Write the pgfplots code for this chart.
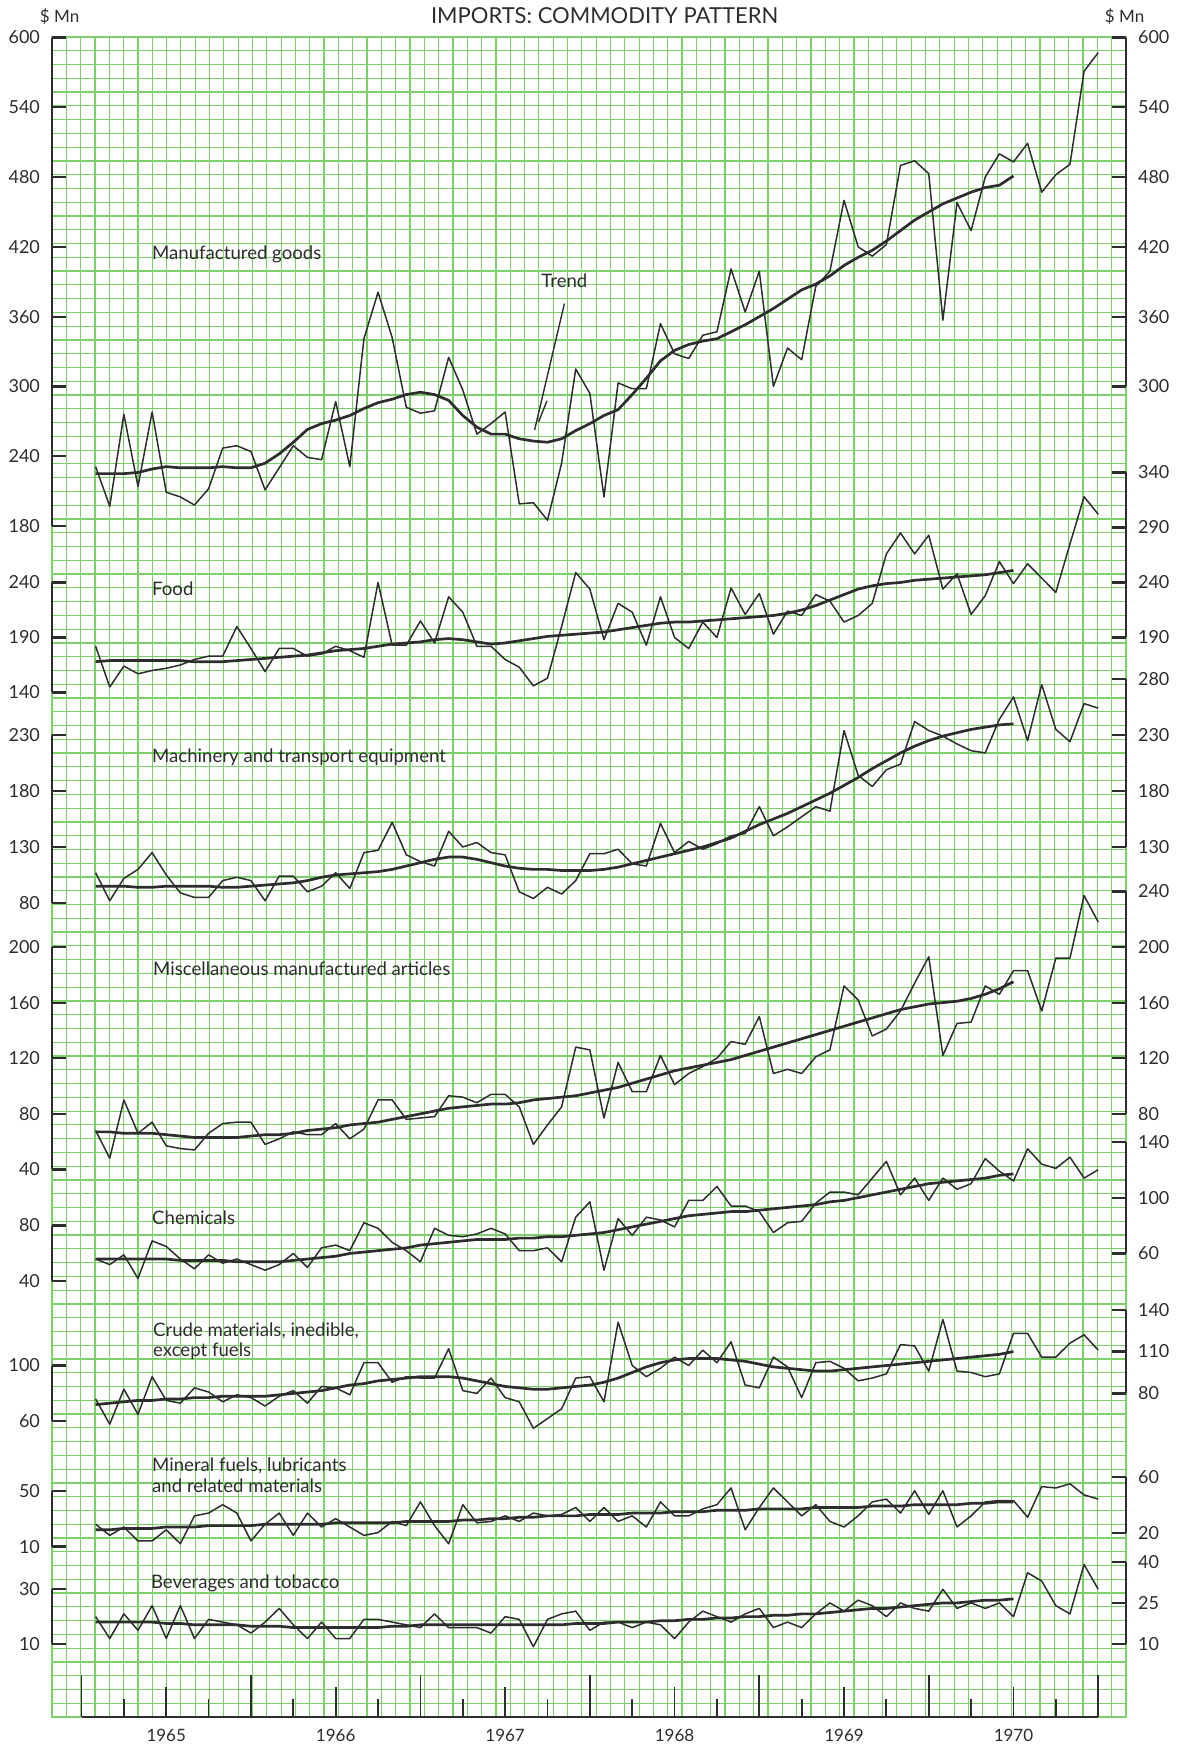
\documentclass[border=0pt]{standalone}
\usepackage{pgfplots}
\pgfplotsset{compat=1.18}
\usepackage{pgfplotstable}
\usepackage{fontspec}
\setmainfont{Lato}
\definecolor{gridgreen}{RGB}{125,207,108}
\definecolor{ink}{RGB}{45,45,45}

\tikzset{brk/.style={ink, line width=1.1pt}}
\pgfplotsset{
 ov/.style={scale only axis, width=537pt, height=840pt, at={(26pt,-858.5pt)}, anchor=south west,
   xmin=-2.09, xmax=73.97, axis line style={draw=none}, xtick=\empty, tick align=inside,
   major tick length=7pt, ytick style={ink, line width=1.1pt}, scaled y ticks=false,
   /pgf/number format/assume math mode=true,
   yticklabel style={font=\fontsize{9}{9}\selectfont, text=ink}, clip=false},
 ovL/.style={ov, ytick pos=left, yticklabel style={xshift=-2.5pt}},
 ovR/.style={ov, ytick pos=right, yticklabel style={xshift=2.5pt}},
 dl/.style={ink, line width=0.75pt, line join=round, mark=none},
 tl/.style={ink, line width=1.35pt, line join=round, mark=none},
}

\pgfplotstableread[row sep=\\]{m v\\ 1 231\\ 2 197\\ 3 276\\ 4 214\\ 5 278\\ 6 209\\ 7 205\\ 8 198\\ 9 212\\ 10 247\\ 11 249\\ 12 244\\ 13 211\\ 14 230\\ 15 249\\ 16 239\\ 17 237\\ 18 287\\ 19 231\\ 20 341\\ 21 381\\ 22 342\\ 23 282\\ 24 277\\ 25 279\\ 26 325\\ 27 297\\ 28 259\\ 29 268\\ 30 278\\ 31 199\\ 32 200\\ 33 185\\ 34 234\\ 35 315\\ 36 294\\ 37 205\\ 38 303\\ 39 298\\ 40 298\\ 41 354\\ 42 328\\ 43 324\\ 44 344\\ 45 347\\ 46 401\\ 47 364\\ 48 399\\ 49 300\\ 50 333\\ 51 323\\ 52 386\\ 53 399\\ 54 460\\ 55 420\\ 56 412\\ 57 422\\ 58 490\\ 59 494\\ 60 483\\ 61 357\\ 62 458\\ 63 434\\ 64 480\\ 65 500\\ 66 493\\ 67 509\\ 68 467\\ 69 482\\ 70 491\\ 71 571\\ 72 587\\}\manuf
\pgfplotstableread[row sep=\\]{m t\\ 1 225\\ 2 225\\ 3 225\\ 4 226\\ 5 229\\ 6 231\\ 7 230\\ 8 230\\ 9 230\\ 10 231\\ 11 230\\ 12 230\\ 13 234\\ 14 242\\ 15 252\\ 16 263\\ 17 268\\ 18 271\\ 19 275\\ 20 281\\ 21 286\\ 22 289\\ 23 293\\ 24 295\\ 25 293\\ 26 288\\ 27 275\\ 28 265\\ 29 259\\ 30 259\\ 31 255\\ 32 253\\ 33 252\\ 34 255\\ 35 262\\ 36 268\\ 37 275\\ 38 280\\ 39 293\\ 40 307\\ 41 322\\ 42 331\\ 43 336\\ 44 339\\ 45 341\\ 46 347\\ 47 353\\ 48 360\\ 49 367\\ 50 375\\ 51 383\\ 52 388\\ 53 395\\ 54 404\\ 55 411\\ 56 417\\ 57 425\\ 58 434\\ 59 443\\ 60 450\\ 61 457\\ 62 462\\ 63 467\\ 64 471\\ 65 473\\ 66 481\\}\manuft

\pgfplotstableread[row sep=\\]{m v\\ 1 182\\ 2 145\\ 3 164\\ 4 157\\ 5 160\\ 6 162\\ 7 165\\ 8 170\\ 9 173\\ 10 173\\ 11 200\\ 12 180\\ 13 159\\ 14 180\\ 15 180\\ 16 173\\ 17 175\\ 18 182\\ 19 178\\ 20 172\\ 21 240\\ 22 183\\ 23 183\\ 24 205\\ 25 185\\ 26 227\\ 27 213\\ 28 182\\ 29 182\\ 30 170\\ 31 163\\ 32 146\\ 33 153\\ 34 200\\ 35 249\\ 36 234\\ 37 188\\ 38 221\\ 39 213\\ 40 183\\ 41 227\\ 42 190\\ 43 180\\ 44 204\\ 45 190\\ 46 235\\ 47 211\\ 48 230\\ 49 193\\ 50 214\\ 51 210\\ 52 229\\ 53 223\\ 54 204\\ 55 210\\ 56 221\\ 57 266\\ 58 285\\ 59 266\\ 60 283\\ 61 234\\ 62 248\\ 63 211\\ 64 228\\ 65 259\\ 66 239\\ 67 257\\ 68 244\\ 69 231\\ 70 275\\ 71 318\\ 72 302\\}\food
\pgfplotstableread[row sep=\\]{m t\\ 1 168\\ 2 169\\ 3 169\\ 4 169\\ 5 169\\ 6 169\\ 7 169\\ 8 168\\ 9 168\\ 10 168\\ 11 169\\ 12 170\\ 13 171\\ 14 172\\ 15 173\\ 16 174\\ 17 176\\ 18 178\\ 19 179\\ 20 180\\ 21 182\\ 22 184\\ 23 185\\ 24 186\\ 25 188\\ 26 189\\ 27 188\\ 28 186\\ 29 184\\ 30 185\\ 31 187\\ 32 189\\ 33 191\\ 34 192\\ 35 193\\ 36 194\\ 37 195\\ 38 197\\ 39 199\\ 40 201\\ 41 203\\ 42 204\\ 43 204\\ 44 205\\ 45 206\\ 46 207\\ 47 208\\ 48 209\\ 49 210\\ 50 212\\ 51 215\\ 52 219\\ 53 224\\ 54 229\\ 55 234\\ 56 237\\ 57 239\\ 58 240\\ 59 242\\ 60 243\\ 61 244\\ 62 245\\ 63 246\\ 64 247\\ 65 249\\ 66 251\\}\foodt

\pgfplotstableread[row sep=\\]{m v\\ 1 107\\ 2 82\\ 3 102\\ 4 110\\ 5 125\\ 6 105\\ 7 89\\ 8 85\\ 9 85\\ 10 100\\ 11 103\\ 12 100\\ 13 82\\ 14 104\\ 15 104\\ 16 90\\ 17 95\\ 18 107\\ 19 93\\ 20 125\\ 21 127\\ 22 152\\ 23 123\\ 24 117\\ 25 113\\ 26 144\\ 27 130\\ 28 134\\ 29 125\\ 30 123\\ 31 90\\ 32 84\\ 33 94\\ 34 88\\ 35 100\\ 36 124\\ 37 124\\ 38 128\\ 39 115\\ 40 113\\ 41 151\\ 42 125\\ 43 135\\ 44 128\\ 45 133\\ 46 140\\ 47 142\\ 48 166\\ 49 140\\ 50 148\\ 51 157\\ 52 166\\ 53 162\\ 54 234\\ 55 194\\ 56 184\\ 57 199\\ 58 204\\ 59 242\\ 60 234\\ 61 229\\ 62 222\\ 63 216\\ 64 214\\ 65 244\\ 66 264\\ 67 225\\ 68 275\\ 69 235\\ 70 224\\ 71 258\\ 72 254\\}\mach
\pgfplotstableread[row sep=\\]{m t\\ 1 95\\ 2 95\\ 3 95\\ 4 94\\ 5 94\\ 6 95\\ 7 95\\ 8 95\\ 9 95\\ 10 94\\ 11 94\\ 12 95\\ 13 96\\ 14 97\\ 15 98\\ 16 100\\ 17 103\\ 18 105\\ 19 106\\ 20 107\\ 21 108\\ 22 110\\ 23 113\\ 24 116\\ 25 119\\ 26 121\\ 27 121\\ 28 119\\ 29 116\\ 30 113\\ 31 111\\ 32 110\\ 33 110\\ 34 109\\ 35 109\\ 36 109\\ 37 110\\ 38 112\\ 39 115\\ 40 118\\ 41 121\\ 42 124\\ 43 127\\ 44 130\\ 45 134\\ 46 138\\ 47 144\\ 48 150\\ 49 155\\ 50 160\\ 51 166\\ 52 172\\ 53 178\\ 54 185\\ 55 192\\ 56 200\\ 57 207\\ 58 214\\ 59 220\\ 60 225\\ 61 229\\ 62 232\\ 63 235\\ 64 237\\ 65 239\\ 66 240\\}\macht

\pgfplotstableread[row sep=\\]{m v\\ 1 68\\ 2 48\\ 3 90\\ 4 66\\ 5 74\\ 6 57\\ 7 55\\ 8 54\\ 9 66\\ 10 73\\ 11 74\\ 12 74\\ 13 58\\ 14 62\\ 15 67\\ 16 65\\ 17 65\\ 18 73\\ 19 62\\ 20 69\\ 21 90\\ 22 90\\ 23 76\\ 24 77\\ 25 78\\ 26 93\\ 27 92\\ 28 88\\ 29 94\\ 30 94\\ 31 85\\ 32 58\\ 33 72\\ 34 85\\ 35 128\\ 36 126\\ 37 77\\ 38 117\\ 39 96\\ 40 96\\ 41 122\\ 42 101\\ 43 109\\ 44 114\\ 45 120\\ 46 132\\ 47 130\\ 48 150\\ 49 109\\ 50 112\\ 51 109\\ 52 121\\ 53 126\\ 54 172\\ 55 162\\ 56 136\\ 57 141\\ 58 154\\ 59 174\\ 60 193\\ 61 122\\ 62 145\\ 63 146\\ 64 172\\ 65 166\\ 66 183\\ 67 183\\ 68 154\\ 69 192\\ 70 192\\ 71 237\\ 72 218\\}\misc
\pgfplotstableread[row sep=\\]{m t\\ 1 67\\ 2 67\\ 3 66\\ 4 66\\ 5 66\\ 6 65\\ 7 64\\ 8 63\\ 9 63\\ 10 63\\ 11 63\\ 12 64\\ 13 65\\ 14 65\\ 15 66\\ 16 68\\ 17 69\\ 18 70\\ 19 72\\ 20 73\\ 21 74\\ 22 76\\ 23 78\\ 24 80\\ 25 82\\ 26 84\\ 27 85\\ 28 86\\ 29 87\\ 30 87\\ 31 88\\ 32 90\\ 33 91\\ 34 92\\ 35 93\\ 36 95\\ 37 97\\ 38 99\\ 39 102\\ 40 105\\ 41 108\\ 42 111\\ 43 113\\ 44 115\\ 45 117\\ 46 119\\ 47 122\\ 48 125\\ 49 128\\ 50 131\\ 51 134\\ 52 137\\ 53 140\\ 54 143\\ 55 146\\ 56 149\\ 57 152\\ 58 155\\ 59 157\\ 60 159\\ 61 160\\ 62 161\\ 63 163\\ 64 166\\ 65 170\\ 66 175\\}\misct

\pgfplotstableread[row sep=\\]{m v\\ 1 56\\ 2 52\\ 3 59\\ 4 42\\ 5 69\\ 6 65\\ 7 56\\ 8 49\\ 9 59\\ 10 53\\ 11 56\\ 12 52\\ 13 48\\ 14 52\\ 15 60\\ 16 50\\ 17 64\\ 18 66\\ 19 62\\ 20 82\\ 21 78\\ 22 68\\ 23 62\\ 24 54\\ 25 78\\ 26 73\\ 27 72\\ 28 74\\ 29 78\\ 30 74\\ 31 62\\ 32 62\\ 33 64\\ 34 54\\ 35 86\\ 36 97\\ 37 48\\ 38 85\\ 39 73\\ 40 86\\ 41 84\\ 42 79\\ 43 98\\ 44 98\\ 45 108\\ 46 94\\ 47 94\\ 48 90\\ 49 75\\ 50 82\\ 51 83\\ 52 96\\ 53 104\\ 54 104\\ 55 102\\ 56 114\\ 57 126\\ 58 102\\ 59 114\\ 60 98\\ 61 114\\ 62 106\\ 63 110\\ 64 128\\ 65 119\\ 66 112\\ 67 135\\ 68 124\\ 69 121\\ 70 129\\ 71 114\\ 72 120\\}\chem
\pgfplotstableread[row sep=\\]{m t\\ 1 56\\ 2 56\\ 3 56\\ 4 56\\ 5 56\\ 6 56\\ 7 55\\ 8 55\\ 9 55\\ 10 55\\ 11 54\\ 12 54\\ 13 54\\ 14 54\\ 15 55\\ 16 56\\ 17 57\\ 18 58\\ 19 60\\ 20 61\\ 21 62\\ 22 63\\ 23 64\\ 24 66\\ 25 67\\ 26 68\\ 27 69\\ 28 70\\ 29 70\\ 30 70\\ 31 71\\ 32 71\\ 33 72\\ 34 72\\ 35 73\\ 36 74\\ 37 75\\ 38 77\\ 39 79\\ 40 81\\ 41 83\\ 42 85\\ 43 87\\ 44 88\\ 45 89\\ 46 90\\ 47 90\\ 48 91\\ 49 92\\ 50 93\\ 51 94\\ 52 95\\ 53 97\\ 54 98\\ 55 100\\ 56 102\\ 57 104\\ 58 106\\ 59 108\\ 60 110\\ 61 111\\ 62 112\\ 63 113\\ 64 114\\ 65 116\\ 66 117\\}\chemt

\pgfplotstableread[row sep=\\]{m v\\ 1 76\\ 2 58\\ 3 83\\ 4 65\\ 5 92\\ 6 75\\ 7 73\\ 8 84\\ 9 81\\ 10 74\\ 11 79\\ 12 77\\ 13 71\\ 14 78\\ 15 82\\ 16 73\\ 17 85\\ 18 84\\ 19 79\\ 20 102\\ 21 102\\ 22 88\\ 23 92\\ 24 91\\ 25 91\\ 26 112\\ 27 82\\ 28 80\\ 29 91\\ 30 77\\ 31 74\\ 32 55\\ 33 62\\ 34 69\\ 35 91\\ 36 92\\ 37 74\\ 38 131\\ 39 100\\ 40 92\\ 41 98\\ 42 106\\ 43 100\\ 44 111\\ 45 102\\ 46 117\\ 47 86\\ 48 84\\ 49 106\\ 50 99\\ 51 77\\ 52 102\\ 53 103\\ 54 98\\ 55 89\\ 56 91\\ 57 94\\ 58 115\\ 59 114\\ 60 96\\ 61 133\\ 62 96\\ 63 95\\ 64 92\\ 65 94\\ 66 123\\ 67 123\\ 68 106\\ 69 106\\ 70 116\\ 71 122\\ 72 111\\}\crude
\pgfplotstableread[row sep=\\]{m t\\ 1 72\\ 2 73\\ 3 74\\ 4 75\\ 5 75\\ 6 76\\ 7 76\\ 8 77\\ 9 77\\ 10 78\\ 11 78\\ 12 78\\ 13 78\\ 14 79\\ 15 80\\ 16 81\\ 17 82\\ 18 84\\ 19 86\\ 20 87\\ 21 89\\ 22 90\\ 23 91\\ 24 92\\ 25 92\\ 26 92\\ 27 91\\ 28 89\\ 29 87\\ 30 85\\ 31 84\\ 32 83\\ 33 83\\ 34 84\\ 35 85\\ 36 86\\ 37 88\\ 38 91\\ 39 95\\ 40 99\\ 41 102\\ 42 104\\ 43 105\\ 44 105\\ 45 105\\ 46 104\\ 47 103\\ 48 101\\ 49 99\\ 50 98\\ 51 97\\ 52 96\\ 53 96\\ 54 97\\ 55 98\\ 56 99\\ 57 100\\ 58 101\\ 59 102\\ 60 103\\ 61 104\\ 62 105\\ 63 106\\ 64 107\\ 65 108\\ 66 110\\}\crudet

\pgfplotstableread[row sep=\\]{m v\\ 1 26\\ 2 18\\ 3 24\\ 4 14\\ 5 14\\ 6 22\\ 7 12\\ 8 32\\ 9 34\\ 10 40\\ 11 34\\ 12 14\\ 13 26\\ 14 34\\ 15 18\\ 16 34\\ 17 24\\ 18 30\\ 19 24\\ 20 18\\ 21 20\\ 22 28\\ 23 25\\ 24 42\\ 25 25\\ 26 12\\ 27 40\\ 28 27\\ 29 28\\ 30 32\\ 31 28\\ 32 34\\ 33 32\\ 34 33\\ 35 38\\ 36 28\\ 37 38\\ 38 28\\ 39 32\\ 40 24\\ 41 42\\ 42 32\\ 43 32\\ 44 37\\ 45 40\\ 46 52\\ 47 22\\ 48 38\\ 49 52\\ 50 42\\ 51 32\\ 52 40\\ 53 28\\ 54 24\\ 55 32\\ 56 42\\ 57 44\\ 58 34\\ 59 50\\ 60 33\\ 61 50\\ 62 24\\ 63 32\\ 64 42\\ 65 43\\ 66 43\\ 67 31\\ 68 53\\ 69 52\\ 70 55\\ 71 47\\ 72 44\\}\mineral
\pgfplotstableread[row sep=\\]{m t\\ 1 22\\ 2 22\\ 3 23\\ 4 23\\ 5 23\\ 6 24\\ 7 24\\ 8 24\\ 9 25\\ 10 25\\ 11 25\\ 12 25\\ 13 26\\ 14 26\\ 15 26\\ 16 26\\ 17 26\\ 18 27\\ 19 27\\ 20 27\\ 21 27\\ 22 27\\ 23 28\\ 24 28\\ 25 28\\ 26 28\\ 27 29\\ 28 29\\ 29 30\\ 30 30\\ 31 31\\ 32 31\\ 33 32\\ 34 32\\ 35 32\\ 36 33\\ 37 33\\ 38 33\\ 39 34\\ 40 34\\ 41 34\\ 42 35\\ 43 35\\ 44 35\\ 45 36\\ 46 36\\ 47 36\\ 48 37\\ 49 37\\ 50 37\\ 51 37\\ 52 38\\ 53 38\\ 54 38\\ 55 38\\ 56 39\\ 57 39\\ 58 39\\ 59 40\\ 60 40\\ 61 40\\ 62 40\\ 63 41\\ 64 41\\ 65 42\\ 66 42\\}\mineralt

\pgfplotstableread[row sep=\\]{m v\\ 1 20\\ 2 12\\ 3 21\\ 4 15\\ 5 24\\ 6 12\\ 7 24\\ 8 12\\ 9 19\\ 10 18\\ 11 17\\ 12 14\\ 13 18\\ 14 23\\ 15 17\\ 16 12\\ 17 18\\ 18 12\\ 19 12\\ 20 19\\ 21 19\\ 22 18\\ 23 17\\ 24 16\\ 25 21\\ 26 16\\ 27 16\\ 28 16\\ 29 14\\ 30 20\\ 31 19\\ 32 9\\ 33 19\\ 34 21\\ 35 22\\ 36 15\\ 37 18\\ 38 18\\ 39 16\\ 40 18\\ 41 17\\ 42 12\\ 43 18\\ 44 22\\ 45 20\\ 46 18\\ 47 21\\ 48 23\\ 49 16\\ 50 18\\ 51 16\\ 52 21\\ 53 25\\ 54 22\\ 55 26\\ 56 24\\ 57 20\\ 58 25\\ 59 23\\ 60 22\\ 61 30\\ 62 23\\ 63 25\\ 64 23\\ 65 25\\ 66 20\\ 67 36\\ 68 33\\ 69 24\\ 70 21\\ 71 39\\ 72 30\\}\bev
\pgfplotstableread[row sep=\\]{m t\\ 1 18\\ 2 18\\ 3 18\\ 4 18\\ 5 18\\ 6 17.5\\ 7 17.5\\ 8 17\\ 9 17\\ 10 17\\ 11 17\\ 12 16.5\\ 13 16.5\\ 14 16.5\\ 15 16\\ 16 16\\ 17 16\\ 18 16\\ 19 16\\ 20 16\\ 21 16\\ 22 16.5\\ 23 16.5\\ 24 17\\ 25 17\\ 26 17\\ 27 17\\ 28 17\\ 29 17\\ 30 17\\ 31 17\\ 32 17\\ 33 17\\ 34 17\\ 35 17.5\\ 36 17.5\\ 37 17.5\\ 38 18\\ 39 18\\ 40 18\\ 41 18.5\\ 42 18.5\\ 43 19\\ 44 19\\ 45 19.5\\ 46 19.5\\ 47 20\\ 48 20\\ 49 20.5\\ 50 20.5\\ 51 21\\ 52 21\\ 53 21.5\\ 54 22\\ 55 22.5\\ 56 23\\ 57 23\\ 58 23.5\\ 59 24\\ 60 24.5\\ 61 25\\ 62 25\\ 63 25.5\\ 64 26\\ 65 26\\ 66 26.5\\}\bevt

\begin{document}
\begin{tikzpicture}
\useasboundingbox (0,0) rectangle (593.5pt,-874.5pt);

% graph paper
\begin{axis}[scale only axis, width=537pt, height=840pt, at={(26pt,-858.5pt)}, anchor=south west,
  xmin=0, xmax=75, ymin=0, ymax=122, xtick={0,...,75}, ytick={0,...,122},
  xticklabels={}, yticklabels={}, major tick length=0pt, tick style={draw=none},
  grid=major, major grid style={gridgreen, line width=0.6pt},
  axis line style={gridgreen, line width=0.7pt}]
\end{axis}

% Manufactured goods
\begin{axis}[ovL, ymin=-844.1, ymax=600.43, ytick={180,240,...,600}]
\addplot[dl] table[x=m,y=v]{\manuf};
\addplot[tl] table[x=m,y=t]{\manuft};
\draw[brk] (axis cs:-2.09,180) -- (axis cs:-2.09,600);
\end{axis}
\begin{axis}[ovR, ymin=-844.1, ymax=600.43, ytick={300,360,...,600}]
\draw[brk] (axis cs:73.97,300) -- (axis cs:73.97,600);
\end{axis}

% Food
\begin{axis}[ovL, ymin=-791.4, ymax=735.9, ytick={140,190,240}]
\addplot[dl] table[x=m,y=v]{\food};
\addplot[tl] table[x=m,y=t]{\foodt};
\draw[brk] (axis cs:-2.09,140) -- (axis cs:-2.09,240);
\end{axis}
\begin{axis}[ovR, ymin=-791.4, ymax=735.9, ytick={190,240,290,340}]
\draw[brk] (axis cs:73.97,190) -- (axis cs:73.97,340);
\end{axis}

% Machinery
\begin{axis}[ovL, ymin=-646.8, ymax=853.2, ytick={80,130,180,230}]
\addplot[dl] table[x=m,y=v]{\mach};
\addplot[tl] table[x=m,y=t]{\macht};
\draw[brk] (axis cs:-2.09,80) -- (axis cs:-2.09,230);
\end{axis}
\begin{axis}[ovR, ymin=-646.8, ymax=853.2, ytick={130,180,230,280}]
\draw[brk] (axis cs:73.97,130) -- (axis cs:73.97,280);
\end{axis}

% Miscellaneous
\begin{axis}[ovL, ymin=-353.96, ymax=854.7, ytick={40,80,...,200}]
\addplot[dl] table[x=m,y=v]{\misc};
\addplot[tl] table[x=m,y=t]{\misct};
\draw[brk] (axis cs:-2.09,40) -- (axis cs:-2.09,200);
\end{axis}
\begin{axis}[ovR, ymin=-353.96, ymax=854.7, ytick={80,120,...,240}]
\draw[brk] (axis cs:73.97,80) -- (axis cs:73.97,240);
\end{axis}

% Chemicals
\begin{axis}[ovL, ymin=-272.3, ymax=931.97, ytick={40,80}]
\addplot[dl] table[x=m,y=v]{\chem};
\addplot[tl] table[x=m,y=t]{\chemt};
\draw[brk] (axis cs:-2.09,40) -- (axis cs:-2.09,80);
\end{axis}
\begin{axis}[ovR, ymin=-272.3, ymax=931.97, ytick={60,100,140}]
\draw[brk] (axis cs:73.97,60) -- (axis cs:73.97,140);
\end{axis}

% Crude materials
\begin{axis}[ovL, ymin=-151.8, ymax=1051.65, ytick={60,100}]
\addplot[dl] table[x=m,y=v]{\crude};
\addplot[tl] table[x=m,y=t]{\crudet};
\draw[brk] (axis cs:-2.09,60) -- (axis cs:-2.09,100);
\end{axis}
\begin{axis}[ovR, ymin=-151.8, ymax=1051.65, ytick={80,110,140}]
\draw[brk] (axis cs:73.97,80) -- (axis cs:73.97,140);
\end{axis}

% Mineral fuels
\begin{axis}[ovL, ymin=-112.2, ymax=1092.1, ytick={10,50}]
\addplot[dl] table[x=m,y=v]{\mineral};
\addplot[tl] table[x=m,y=t]{\mineralt};
\draw[brk] (axis cs:-2.09,10) -- (axis cs:-2.09,50);
\end{axis}
\begin{axis}[ovR, ymin=-112.2, ymax=1092.1, ytick={20,60}]
\draw[brk] (axis cs:73.97,20) -- (axis cs:73.97,60);
\end{axis}

% Beverages
\begin{axis}[ovL, ymin=-16.64, ymax=596.5, ytick={10,30}]
\addplot[dl] table[x=m,y=v]{\bev};
\addplot[tl] table[x=m,y=t]{\bevt};
\draw[brk] (axis cs:-2.09,10) -- (axis cs:-2.09,30);
\end{axis}
\begin{axis}[ovR, ymin=-16.64, ymax=596.5, ytick={10,25,40}]
\draw[brk] (axis cs:73.97,10) -- (axis cs:73.97,40);
\end{axis}

% time axis
\begin{axis}[ov, ytick=\empty, ymin=0, ymax=1,
  xtick={6,18,...,66}, xticklabels={1965,1966,1967,1968,1969,1970},
  xtick pos=bottom, major tick length=15pt,
  minor xtick={3,9,...,69}, minor tick length=9pt,
  extra x ticks={0,12,...,72}, extra x tick labels={},
  extra x tick style={major tick length=21pt},
  tick style={ink, line width=0.9pt},
  xticklabel style={font=\fontsize{8.5}{8.5}\selectfont, text=ink, yshift=-2.5pt}]
\draw[ink, line width=1.1pt] (axis cs:0,0) -- (axis cs:72,0);
\end{axis}

% texts
\begin{scope}[every node/.style={text=ink, inner sep=0pt}]
\node[font=\fontsize{11}{11}\selectfont] at (302.3pt,-8pt) {IMPORTS: COMMODITY PATTERN};
\node[font=\fontsize{8.5}{8.5}\selectfont] at (29.8pt,-8.5pt) {\$ Mn};
\node[font=\fontsize{8.5}{8.5}\selectfont] at (562.3pt,-8.5pt) {\$ Mn};
\begin{scope}[every node/.append style={anchor=west, font=\fontsize{9.3}{9.3}\selectfont}]
\node at (75.9pt,-127.2pt) {Manufactured goods};
\node at (270.5pt,-140.5pt) {Trend};
\node at (75.9pt,-294.5pt) {Food};
\node at (75.9pt,-378.8pt) {Machinery and transport equipment};
\node at (76.4pt,-484.2pt) {Miscellaneous manufactured articles};
\node at (75.9pt,-609pt) {Chemicals};
\node at (76.4pt,-665.5pt) {Crude materials, inedible,};
\node at (76.4pt,-675.5pt) {except fuels};
\node at (75.9pt,-733pt) {Mineral fuels, lubricants};
\node at (75.9pt,-743pt) {and related materials};
\node at (75.3pt,-791.5pt) {Beverages and tobacco};
\end{scope}
\end{scope}
\draw[ink, line width=0.7pt] (282.2pt,-151.8pt) -- (267.3pt,-215pt);
\draw[ink, line width=0.7pt] (273.5pt,-200.4pt) -- (269.3pt,-210.9pt);
\end{tikzpicture}
\end{document}
